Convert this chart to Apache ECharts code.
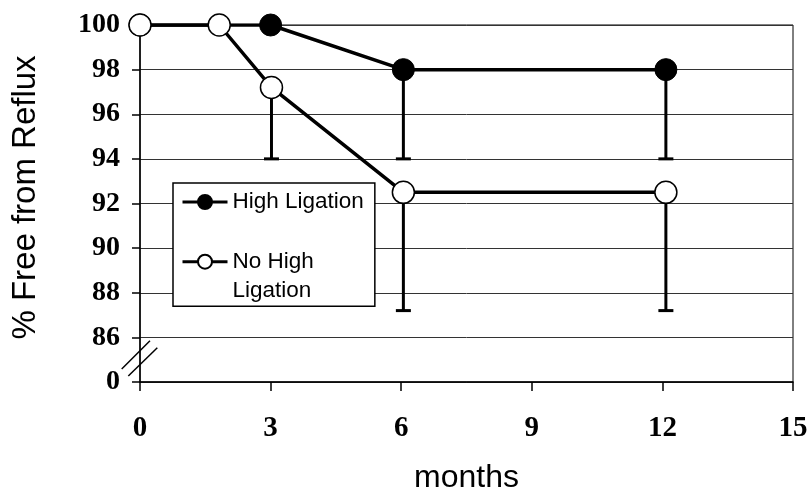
<!DOCTYPE html>
<html><head><meta charset="utf-8">
<script src="https://cdn.jsdelivr.net/npm/echarts@6/dist/echarts.min.js"></script>
<style>html,body{margin:0;padding:0;background:#fff}#c{width:809px;height:492px}</style>
</head><body><div id="c"></div>
<script>
const xTicks = [0, 3, 6, 9, 12, 15];
const yTicks = [84, 86, 88, 90, 92, 94, 96, 98, 100];
const yTickLabels = ['0', '86', '88', '90', '92', '94', '96', '98', '100'];
const seriesNames = ['High Ligation', 'No High Ligation'];
const highX = [0, 3, 6.05, 12.08];
const highY = [100, 100, 98, 98];
const noHighX = [0, 1.82, 3.02, 6.05, 12.08];
const noHighY = [100, 100, 97.2, 92.5, 92.5];
const highErrX = [6.05, 12.08];
const highErrTop = [98, 98];
const highErrLow = [94, 94];
const noHighErrX = [3.02, 6.05, 12.08];
const noHighErrTop = [97.2, 92.5, 92.5];
const noHighErrLow = [94, 87.2, 87.2];

const chart = echarts.init(document.getElementById('c'), null, {renderer: 'canvas'});

function errRender(params, api) {
  const x = api.value(0), lo = api.value(1), hi = api.value(2);
  const p1 = api.coord([x, hi]), p2 = api.coord([x, lo]);
  const hw = 7.5;
  return {type: 'group', children: [
    {type: 'line', shape: {x1: p1[0], y1: p1[1], x2: p2[0], y2: p2[1]}, style: {stroke: '#000', lineWidth: 3}},
    {type: 'line', shape: {x1: p2[0] - hw, y1: p2[1], x2: p2[0] + hw, y2: p2[1]}, style: {stroke: '#000', lineWidth: 3}}
  ]};
}

const option = {
  animation: false,
  backgroundColor: '#fff',
  grid: {left: 140, right: 16, top: 25, bottom: 110, show: true, borderColor: '#000', borderWidth: 1,
    containLabel: false, outerBoundsMode: 'none'},
  legend: {
    data: seriesNames,
    orient: 'vertical', left: 173, top: 183,
    backgroundColor: '#fff', borderColor: '#000', borderWidth: 1.5, borderRadius: 0,
    padding: [4.5, 11, 1, 8], itemGap: 1.7, itemWidth: 45, itemHeight: 17.5,
    selectedMode: false,
    lineStyle: {color: '#000', width: 3},
    textStyle: {fontFamily: 'Liberation Sans', fontSize: 22.5, color: '#000', lineHeight: 29},
    formatter: n => n === 'No High Ligation' ? ' \nNo High\nLigation' : n
  },
  xAxis: {
    type: 'value', min: 0, max: 15, interval: 3,
    axisLine: {lineStyle: {color: '#000', width: 1.5}},
    axisTick: {show: true, inside: false, length: 9, lineStyle: {color: '#000', width: 1.5}},
    axisLabel: {fontFamily: 'Liberation Serif', fontWeight: 'bold', fontSize: 29, color: '#000', margin: 32,
      formatter: v => xTicks.includes(v) ? String(v) : ''},
    splitLine: {show: false},
    name: 'months', nameLocation: 'middle', nameGap: 80,
    nameTextStyle: {fontFamily: 'Liberation Sans', fontSize: 32, color: '#000'}
  },
  yAxis: {
    type: 'value', min: 84, max: 100, interval: 2,
    axisLine: {show: true, lineStyle: {color: '#000', width: 1.5}},
    axisTick: {show: true, inside: false, length: 8, lineStyle: {color: '#000', width: 1.5}},
    axisLabel: {fontFamily: 'Liberation Serif', fontWeight: 'bold', fontSize: 28, color: '#000', margin: 20,
      formatter: v => { const i = yTicks.indexOf(v); return i >= 0 ? yTickLabels[i] : ''; }},
    splitLine: {show: true, lineStyle: {color: '#333', width: 1}},
    name: '% Free from Reflux', nameLocation: 'middle', nameGap: 98, nameRotate: 90,
    nameTextStyle: {fontFamily: 'Liberation Sans', fontSize: 33, color: '#000', padding: [0, 0, 0, 12]}
  },
  series: [
    {type: 'custom', name: 'errHigh', renderItem: errRender, z: 2, silent: true,
      encode: {x: 0, y: [1, 2]},
      data: highErrX.map((x, i) => [x, highErrLow[i], highErrTop[i]])},
    {type: 'custom', name: 'errNoHigh', renderItem: errRender, z: 2, silent: true,
      encode: {x: 0, y: [1, 2]},
      data: noHighErrX.map((x, i) => [x, noHighErrLow[i], noHighErrTop[i]])},
    {name: seriesNames[0], type: 'line', z: 3, symbol: 'circle', symbolSize: 22, showAllSymbol: true,
      data: highX.map((x, i) => [x, highY[i]]),
      lineStyle: {color: '#000', width: 3.5},
      itemStyle: {color: '#000', borderColor: '#000', borderWidth: 1},
      emphasis: {disabled: true}},
    {name: seriesNames[1], type: 'line', z: 4, symbol: 'circle', symbolSize: 22, showAllSymbol: true,
      data: noHighX.map((x, i) => [x, noHighY[i]]),
      lineStyle: {color: '#000', width: 3.5},
      itemStyle: {color: '#fff', borderColor: '#000', borderWidth: 1.5},
      emphasis: {disabled: true}}
  ]
};
chart.setOption(option);

const c = chart.convertToPixel({gridIndex: 0}, [0, 85]);
chart.setOption({graphic: [
  {type: 'line', z: 10, shape: {x1: c[0] - 18.3, y1: c[1] + 9.3, x2: c[0] + 10, y2: c[1] - 19}, style: {stroke: '#000', lineWidth: 1.5}},
  {type: 'line', z: 10, shape: {x1: c[0] - 11.7, y1: c[1] + 16.3, x2: c[0] + 17.3, y2: c[1] - 12}, style: {stroke: '#000', lineWidth: 1.5}}
]});
</script></body></html>
